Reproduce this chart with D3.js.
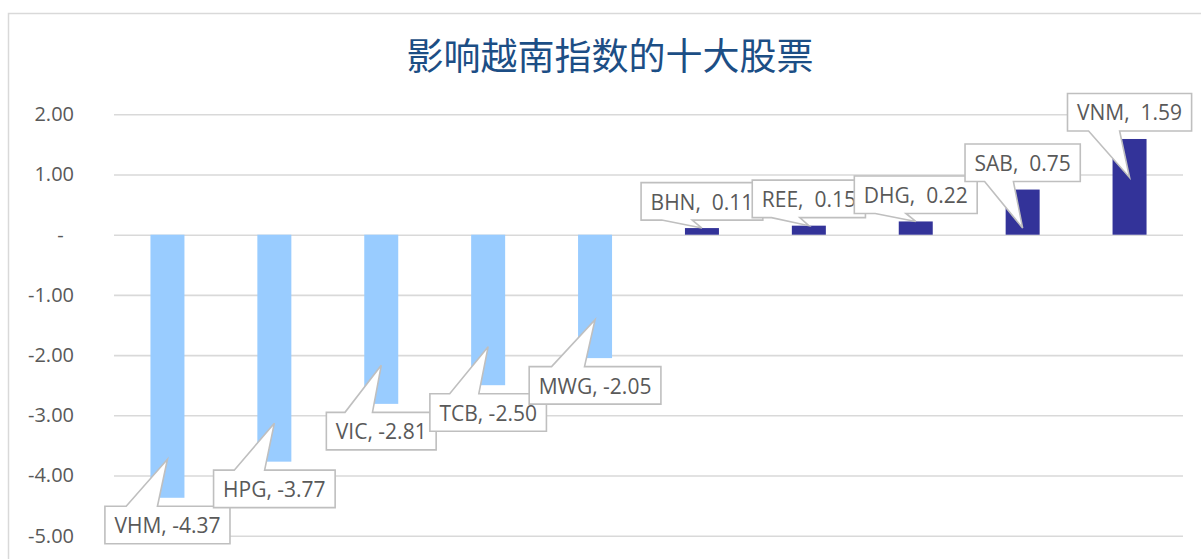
<!DOCTYPE html>
<html>
<head>
<meta charset="utf-8">
<script src="https://cdn.jsdelivr.net/npm/d3@7"></script>
<style>
  html, body { margin: 0; padding: 0; background: #fff; }
  svg { display: block; }
  text { font-family: "Open Sans", "Noto Sans", sans-serif; }
</style>
</head>
<body>
<svg id="chart" width="1201" height="559"></svg>
<script>
// ---- data ----
const titleText = "影响越南指数的十大股票";
const categories = ["VHM", "HPG", "VIC", "TCB", "MWG", "BHN", "REE", "DHG", "SAB", "VNM"];
const values = [-4.37, -3.77, -2.81, -2.50, -2.05, 0.11, 0.15, 0.22, 0.75, 1.59];
const yTicks = [2, 1, 0, -1, -2, -3, -4, -5];
const yDomain = [-5, 2];

// ---- layout ----
const W = 1201, H = 559;
const plot = { left: 114, right: 1183, top: 114.3, bottom: 535.7 };
const negColor = "#99CCFF", posColor = "#333399";
const gridColor = "#d9d9d9", textColor = "#595959";

const svg = d3.select("#chart");

// outer chart frame (extends beyond the window on right/bottom)
svg.append("rect")
  .attr("x", 8.5).attr("y", 13.5)
  .attr("width", 1400).attr("height", 800)
  .attr("fill", "#fff").attr("stroke", gridColor).attr("stroke-width", 1.5);

// title
svg.append("text")
  .attr("x", 610).attr("y", 70)
  .attr("text-anchor", "middle")
  .style("font-family", "'Noto Sans CJK SC', sans-serif")
  .style("font-size", "37px")
  .attr("fill", "#1c4e85")
  .text(titleText);

const x = d3.scaleBand()
  .domain(categories)
  .range([plot.left, plot.right])
  .paddingInner(0.682)
  .paddingOuter(0.341);

const y = d3.scaleLinear().domain(yDomain).range([plot.bottom, plot.top]);

// y axis with gridlines
const yAxis = d3.axisLeft(y)
  .tickValues(yTicks)
  .tickSizeInner(-(plot.right - plot.left))
  .tickSizeOuter(0)
  .tickPadding(40)
  .tickFormat(d => d === 0 ? "-\u00a0\u00a0" : d3.format(".2f")(d).replace("−", "-"));

const gAxis = svg.append("g")
  .attr("transform", `translate(${plot.left},0)`)
  .call(yAxis);
gAxis.select(".domain").remove();
gAxis.selectAll(".tick line").attr("stroke", gridColor).attr("stroke-width", 1.6);
gAxis.selectAll(".tick text")
  .attr("fill", textColor)
  .style("font-size", "20px")
  .style("font-family", "'Open Sans', sans-serif")
  .attr("xml:space", "preserve");

// bars
const data = categories.map((c, i) => ({ name: c, value: values[i] }));
svg.append("g").selectAll("rect")
  .data(data)
  .join("rect")
  .attr("x", d => x(d.name))
  .attr("width", x.bandwidth())
  .attr("y", d => y(Math.max(0, d.value)))
  .attr("height", d => Math.abs(y(d.value) - y(0)))
  .attr("fill", d => d.value < 0 ? negColor : posColor);

// callout labels
const gLab = svg.append("g");
const boxH = 37.5, padX = 9.5;
data.forEach(d => {
  const cx = x(d.name) + x.bandwidth() / 2;
  const ye = y(d.value);
  const y0 = y(0);
  const label = d.value < 0
    ? `${d.name}, ${d.value.toFixed(2)}`
    : `${d.name},\u00a0\u00a0${d.value.toFixed(2)}`;
  const g = gLab.append("g");
  const path = g.append("path");
  const t = g.append("text")
    .style("font-size", "21px")
    .attr("fill", textColor)
    .text(label);
  const tw = t.node().getComputedTextLength();
  const bw = tw + 2 * padX;
  const L = cx - bw / 2;
  let T, tipY, p;
  const x1 = L + 0.17 * bw, x2 = L + 0.42 * bw;
  if (d.value < 0) {
    T = ye + 8.5;
    tipY = ye - 38.5;
    p = `M${L},${T}L${x1},${T}L${cx},${tipY}L${x2},${T}L${L + bw},${T}L${L + bw},${T + boxH}L${L},${T + boxH}Z`;
  } else {
    const B = ye - 8;
    T = B - boxH;
    tipY = (ye + 38.5 > y0) ? ye : ye + 38.5;
    p = `M${L},${T}L${L + bw},${T}L${L + bw},${B}L${x2},${B}L${cx},${tipY}L${x1},${B}L${L},${B}Z`;
  }
  path.attr("d", p)
    .attr("fill", "#fff")
    .attr("stroke", "#bfbfbf")
    .attr("stroke-width", 1.6)
    .attr("stroke-linejoin", "miter");
  t.attr("x", L + padX).attr("y", T + 27);
});
</script>
</body>
</html>
